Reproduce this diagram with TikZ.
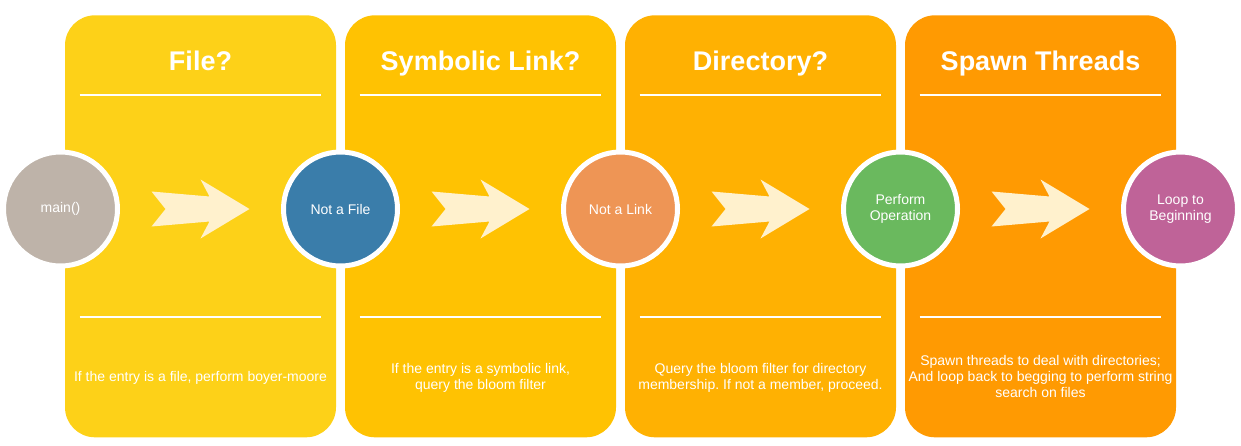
\documentclass[tikz,border=0pt]{standalone}
\usepackage{fontspec}
\setmainfont{Liberation Sans}
\frenchspacing
\usetikzlibrary{calc}
\definecolor{pfile}{HTML}{FDD118}
\definecolor{plink}{HTML}{FFC202}
\definecolor{pdir}{HTML}{FFB102}
\definecolor{pspawn}{HTML}{FF9A02}
\definecolor{cmain}{HTML}{BEB3A9}
\definecolor{cfile}{HTML}{3A7DAA}
\definecolor{clink}{HTML}{EE9555}
\definecolor{cop}{HTML}{6AB95E}
\definecolor{cloop}{HTML}{BF6398}
\definecolor{cream}{HTML}{FFF1CD}
\tikzset{
  panel/.style={rectangle, rounded corners=15pt, minimum width=135.5pt, minimum height=211pt, inner sep=0pt},
  stage/.style={circle, draw=white, line width=2.5pt, minimum size=57pt, inner sep=0pt, align=center, text=white, font=\fontsize{7}{8}\selectfont},
  ttl/.style={text=white, anchor=base, font=\fontsize{13.5}{16}\selectfont\bfseries},
  dsc/.style={text=white, align=center, font=\fontsize{7}{8}\selectfont},
  rulel/.style={draw=white, line width=1pt},
  chev/.style={fill=cream},
}
\begin{document}
\begin{tikzpicture}[x=0.5pt,y=-0.5pt]
\useasboundingbox (0,0) rectangle (1241,445);
\node[panel, fill=pfile] (p1) at (200.5,226.3) {};
\node[panel, fill=plink] (p2) at (480.5,226.3) {};
\node[panel, fill=pdir] (p3) at (760.5,226.3) {};
\node[panel, fill=pspawn] (p4) at (1040.5,226.3) {};
\foreach \p in {p1,p2,p3,p4} {
  \draw[rulel] ($(\p.north west)+(15,80)$) -- ($(\p.north east)+(-15,80)$);
  \draw[rulel] ($(\p.south west)+(15,-121)$) -- ($(\p.south east)+(-15,-121)$);
}
\node[ttl] (t1) at ($(p1.north)+(0,55.3)$) {File?};
\node[ttl] (t2) at ($(p2.north)+(0,55.3)$) {Symbolic Link?};
\node[ttl] (t3) at ($(p3.north)+(0,55.3)$) {Directory?};
\node[ttl] (t4) at ($(p4.north)+(0,55.3)$) {Spawn Threads};
\node[dsc] (d1) at ($(p1.south)+(0,-60)$) {If the entry is a file, perform boyer-moore};
\node[dsc] (d2) at ($(p2.south)+(0,-60)$) {If the entry is a symbolic link,\\ query the bloom filter};
\node[dsc] (d3) at ($(p3.south)+(0,-60)$) {Query the bloom filter for directory\\ membership. If not a member, proceed.};
\node[dsc] (d4) at ($(p4.south)+(0,-61)$) {Spawn threads to deal with directories;\\ And loop back to begging to perform string\\ search on files};
\node[stage, fill=cmain] (c0) at (60.5,209) {main()};
\node[stage, fill=cfile] (c1) at (340.5,209) {Not a File};
\node[stage, fill=clink] (c2) at (620.5,209) {Not a Link};
\node[stage, fill=cop] (c3) at (900.5,209) {Perform\\ Operation};
\node[stage, fill=cloop] (c4) at (1180.5,209) {Loop to\\ Beginning};
\foreach \a/\b in {c0/c1,c1/c2,c2/c3,c3/c4}
  \fill[chev, shift={($(\a)!0.5!(\b)$)}] (-49,-17.5) -- (9,-12.5) -- (0,-29.5) -- (49,0) -- (0,29.5) -- (9,12.5) -- (-49,17.5) -- (-35,0) -- cycle;
\end{tikzpicture}
\end{document}
